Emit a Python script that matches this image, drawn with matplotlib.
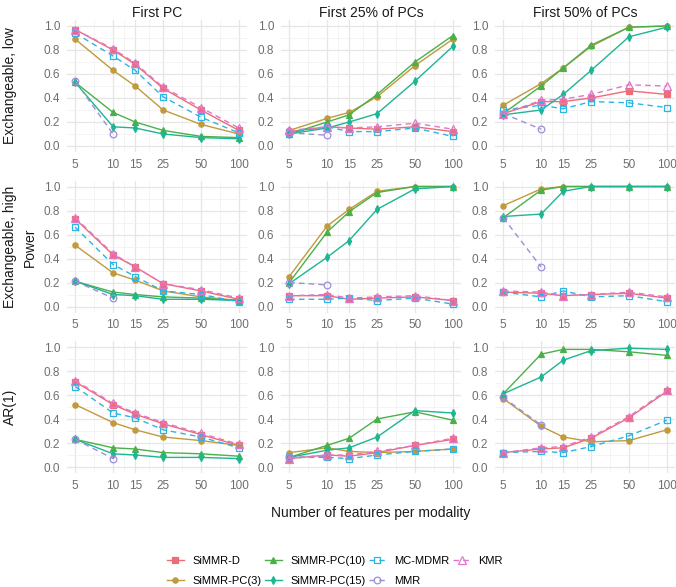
import numpy as np
import matplotlib
matplotlib.use("Agg")
import matplotlib.pyplot as plt
from matplotlib.ticker import FixedLocator, NullFormatter

plt.rcParams["font.family"] = ["Liberation Sans", "DejaVu Sans"]

# x values and facet labels
features = [5, 10, 15, 25, 50, 100]
mmr_features = [5, 10]
col_titles = ["First PC", "First 25% of PCs", "First 50% of PCs"]
row_titles = ["Exchangeable, low", "Exchangeable, high", "AR(1)"]

# power per panel (row-major: row1 col1..3, row2 col1..3, row3 col1..3)
simmr_d = [
    [0.97, 0.80, 0.68, 0.48, 0.30, 0.13],
    [0.12, 0.16, 0.15, 0.14, 0.16, 0.12],
    [0.27, 0.37, 0.37, 0.40, 0.46, 0.43],
    [0.73, 0.43, 0.33, 0.19, 0.13, 0.06],
    [0.09, 0.09, 0.06, 0.07, 0.08, 0.05],
    [0.12, 0.11, 0.09, 0.10, 0.11, 0.07],
    [0.71, 0.52, 0.44, 0.36, 0.27, 0.18],
    [0.07, 0.10, 0.09, 0.12, 0.18, 0.23],
    [0.12, 0.15, 0.16, 0.24, 0.41, 0.63],
]
simmr_pc3 = [
    [0.89, 0.63, 0.50, 0.30, 0.18, 0.10],
    [0.13, 0.23, 0.28, 0.41, 0.67, 0.89],
    [0.34, 0.52, 0.65, 0.83, 0.99, 1.00],
    [0.51, 0.28, 0.22, 0.13, 0.08, 0.05],
    [0.25, 0.67, 0.81, 0.96, 1.00, 1.00],
    [0.84, 0.98, 1.00, 1.00, 1.00, 1.00],
    [0.52, 0.37, 0.31, 0.25, 0.22, 0.18],
    [0.12, 0.16, 0.13, 0.12, 0.13, 0.15],
    [0.57, 0.34, 0.25, 0.21, 0.22, 0.31],
]
simmr_pc10 = [
    [0.53, 0.28, 0.20, 0.13, 0.08, 0.07],
    [0.10, 0.20, 0.26, 0.43, 0.70, 0.92],
    [0.27, 0.50, 0.65, 0.84, 0.99, 1.00],
    [0.21, 0.12, 0.10, 0.08, 0.07, 0.05],
    [0.20, 0.62, 0.79, 0.95, 1.00, 1.00],
    [0.74, 0.97, 1.00, 1.00, 1.00, 1.00],
    [0.23, 0.16, 0.15, 0.12, 0.11, 0.09],
    [0.08, 0.18, 0.24, 0.40, 0.46, 0.39],
    [0.61, 0.94, 0.98, 0.98, 0.96, 0.93],
]
simmr_pc15 = [
    [0.53, 0.16, 0.15, 0.10, 0.07, 0.06],
    [0.10, 0.15, 0.20, 0.27, 0.54, 0.83],
    [0.26, 0.30, 0.43, 0.63, 0.91, 0.99],
    [0.21, 0.10, 0.09, 0.06, 0.06, 0.05],
    [0.19, 0.41, 0.55, 0.81, 0.98, 1.00],
    [0.75, 0.77, 0.96, 1.00, 1.00, 1.00],
    [0.23, 0.11, 0.10, 0.08, 0.08, 0.07],
    [0.08, 0.14, 0.16, 0.25, 0.47, 0.45],
    [0.61, 0.75, 0.89, 0.97, 0.99, 0.98],
]
mc_mdmr = [
    [0.94, 0.75, 0.63, 0.41, 0.24, 0.11],
    [0.11, 0.16, 0.12, 0.12, 0.15, 0.08],
    [0.30, 0.34, 0.31, 0.37, 0.36, 0.32],
    [0.66, 0.35, 0.25, 0.13, 0.10, 0.04],
    [0.06, 0.06, 0.07, 0.05, 0.07, 0.02],
    [0.12, 0.08, 0.13, 0.08, 0.09, 0.04],
    [0.67, 0.45, 0.41, 0.31, 0.25, 0.16],
    [0.08, 0.08, 0.07, 0.10, 0.13, 0.15],
    [0.12, 0.13, 0.12, 0.17, 0.26, 0.39],
]
mmr = [
    [0.54, 0.10],
    [0.11, 0.09],
    [0.27, 0.14],
    [0.21, 0.07],
    [0.20, 0.18],
    [0.74, 0.33],
    [0.23, 0.07],
    [0.08, 0.09],
    [0.58, 0.35],
]
kmr = [
    [0.97, 0.81, 0.69, 0.49, 0.32, 0.15],
    [0.13, 0.16, 0.15, 0.16, 0.19, 0.14],
    [0.27, 0.38, 0.39, 0.43, 0.51, 0.50],
    [0.74, 0.44, 0.33, 0.19, 0.14, 0.07],
    [0.09, 0.10, 0.07, 0.08, 0.09, 0.05],
    [0.13, 0.12, 0.09, 0.10, 0.12, 0.08],
    [0.72, 0.53, 0.45, 0.37, 0.28, 0.19],
    [0.07, 0.10, 0.10, 0.13, 0.18, 0.24],
    [0.12, 0.16, 0.17, 0.25, 0.42, 0.64],
]

methods = [
    ("SiMMR-D", simmr_d, features, "#EE6B78", "s", True, "-", 4.2),
    ("SiMMR-PC(3)", simmr_pc3, features, "#C09A3C", "o", True, "-", 3.8),
    ("SiMMR-PC(10)", simmr_pc10, features, "#4CB04A", "^", True, "-", 4.4),
    ("SiMMR-PC(15)", simmr_pc15, features, "#1DB592", "d", True, "-", 3.8),
    ("MC-MDMR", mc_mdmr, features, "#2BB5E3", "s", False, (0, (4, 3)), 4.8),
    ("MMR", mmr, mmr_features, "#9C8FD8", "o", False, (0, (4, 3)), 4.8),
    ("KMR", kmr, features, "#E077C8", "^", False, (0, (4, 3)), 5.2),
]

W, H = 676, 587
fig = plt.figure(figsize=(W / 100, H / 100), dpi=100)

col_left = [67, 281, 495]
row_top = [20, 180.5, 341]
pw, ph = 180, 132

minor_x = [np.sqrt(a * b) for a, b in zip(features[:-1], features[1:])]

handles = {}
for r in range(3):
    for c in range(3):
        idx = r * 3 + c
        ax = fig.add_axes([col_left[c] / W, 1 - (row_top[r] + ph) / H, pw / W, ph / H])
        ax.set_xscale("log")
        ax.set_xlim(4.30, 116.2)
        ax.set_ylim(-0.05, 1.05)
        ax.xaxis.set_major_locator(FixedLocator(features))
        ax.xaxis.set_minor_locator(FixedLocator(minor_x))
        ax.xaxis.set_minor_formatter(NullFormatter())
        ax.set_xticklabels([str(f) for f in features])
        ax.set_yticks([0, 0.2, 0.4, 0.6, 0.8, 1.0])
        ax.set_yticks([0.1, 0.3, 0.5, 0.7, 0.9], minor=True)
        ax.set_yticklabels(["0.0", "0.2", "0.4", "0.6", "0.8", "1.0"])
        ax.grid(True, which="major", color="#E6E6E6", lw=0.9)
        ax.grid(True, which="minor", color="#F0F0F0", lw=0.5)
        ax.set_axisbelow(True)
        ax.tick_params(which="both", length=0, labelsize=8.5, labelcolor="#6E6E6E")
        ax.tick_params(axis="y", pad=5)
        ax.tick_params(axis="x", pad=5)
        for s in ax.spines.values():
            s.set_visible(False)

        for name, vals, xs, color, marker, filled, ls, ms in methods:
            line, = ax.plot(xs, vals[idx], color=color, lw=1.0, ls=ls,
                            marker=marker, ms=ms,
                            mfc=color if filled else "none", mec=color, mew=0.9)
            handles[name] = line

        if r == 0:
            ax.set_title(col_titles[c], fontsize=10, color="#1A1A1A", pad=2)
        if c == 0:
            fig.text(10 / W, 1 - (row_top[r] + ph / 2) / H, row_titles[r],
                     rotation=90, ha="center", va="center", fontsize=10, color="#1A1A1A")

fig.text(30 / W, 1 - 247 / H, "Power", rotation=90, ha="center", va="center",
         fontsize=10, color="#1A1A1A")
fig.text(371 / W, 1 - 513 / H, "Number of features per modality", ha="center",
         va="center", fontsize=10, color="#1A1A1A")

names = [m[0] for m in methods]
fig.legend([handles[n] for n in names], names, ncol=4, frameon=False,
           loc="center left", bbox_to_anchor=(157 / W, 1 - 571 / H), fontsize=8,
           handlelength=1.5, columnspacing=0.35, labelspacing=0.9, handletextpad=0.75)

fig.savefig("out.png", dpi=100, facecolor="white")
